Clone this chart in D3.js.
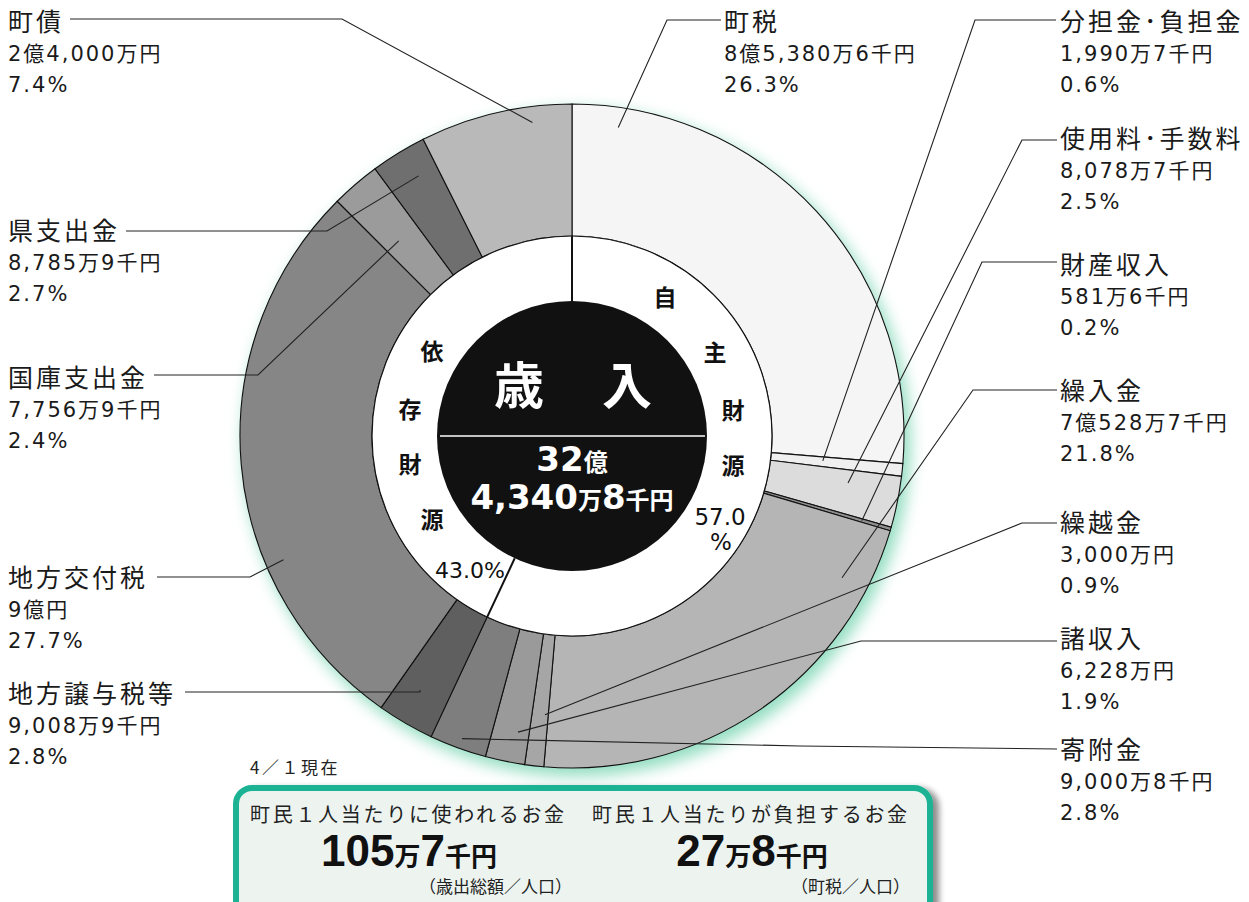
<!DOCTYPE html>
<html><head><meta charset="utf-8">
<script src="https://cdn.jsdelivr.net/npm/d3@7"></script>
<style>
html,body{margin:0;padding:0;background:#fff;}
svg{display:block;}
text{font-family:"DejaVu Sans","Noto Sans CJK JP",sans-serif;}
.jp{font-family:"Noto Sans CJK JP",sans-serif;}
</style></head>
<body>
<svg id="chart" width="1249" height="902"></svg>
<script>
// ---- data (amounts in 千円) ----
const categories = ["町税","分担金･負担金","使用料･手数料","財産収入","繰入金","繰越金","諸収入","寄附金","地方譲与税等","地方交付税","国庫支出金","県支出金","町債"];
const values = [853806,19907,80787,5816,705287,30000,62280,90008,90089,900000,77569,87859,240000];
const amountLabels = ["8億5,380万6千円","1,990万7千円","8,078万7千円","581万6千円","7億528万7千円","3,000万円","6,228万円","9,000万8千円","9,008万9千円","9億円","7,756万9千円","8,785万9千円","2億4,000万円"];
const percentLabels = ["26.3%","0.6%","2.5%","0.2%","21.8%","0.9%","1.9%","2.8%","2.8%","27.7%","2.4%","2.7%","7.4%"];
const groupNames = ["自主財源","依存財源"];
const groupPercents = ["57.0","43.0%"];
const totalLabel = ["32","億","4,340","万","8","千円"];
const perCapita = [
  {title:"町民１人当たりに使われるお金", parts:["105","万","7","千円"], note:"（歳出総額／人口）"},
  {title:"町民１人当たりが負担するお金", parts:["27","万","8","千円"], note:"（町税／人口）"}
];
const dateNote = "4／１現在";

// ---- styles / layout ----
const fills = ["#f5f5f5","#efefef","#dcdcdc","#8f8f8f","#b5b5b5","#a6a6a6","#9a9a9a","#7e7e7e","#5f5f5f","#868686","#9b9b9b","#6f6f6f","#b9b9b9"];
const cx = 572, cy = 436, R = 332, r1 = 200, r0 = 135;
// label layout: text x, name baseline, leader path (text side -> elbow), anchor within slice (t fraction, radius)
const layout = [
  {x:724, y:31, pts:[[721,20],[667,20]], t:0.09, rr:312},
  {x:1060,y:31, pts:[[1056,20],[975,20]], t:0.4, rr:252},
  {x:1060,y:148,pts:[[1057,140],[1022,140]], t:0.3, rr:280},
  {x:1060,y:274,pts:[[1057,262],[982,262]], t:0.5, rr:302},
  {x:1060,y:400,pts:[[1057,390],[973,390]], t:0.142, rr:305},
  {x:1060,y:532,pts:[[1057,523],[1022,523]], t:0.2, rr:280},
  {x:1060,y:648,pts:[[1057,641],[861,641]], t:0.31, rr:301},
  {x:1060,y:759,pts:[[1057,749],[800,746]], t:0.485, rr:322},
  {x:8,   y:703,pts:[[185,692],[420,692]], t:0.58, rr:296},
  {x:8,   y:587,pts:[[157,577],[250,577]], t:0.317, rr:314},
  {x:8,   y:387,pts:[[154,375],[258,375]], t:0.395, rr:261},
  {x:8,   y:240,pts:[[126,231],[327,231]], t:0.6, rr:302},
  {x:8,   y:31, pts:[[70,19],[342,19]], t:0.73, rr:316}
];

const svg = d3.select("#chart");
const defs = svg.append("defs");
defs.append("filter").attr("id","glow").attr("x","-20%").attr("y","-20%").attr("width","140%").attr("height","140%")
  .append("feGaussianBlur").attr("stdDeviation",8);
const sh = defs.append("filter").attr("id","boxshadow").attr("x","-5%").attr("y","-20%").attr("width","115%").attr("height","150%");
sh.append("feGaussianBlur").attr("in","SourceAlpha").attr("stdDeviation",3).attr("result","b");
sh.append("feOffset").attr("in","b").attr("dx",6).attr("dy",3).attr("result","o");
sh.append("feComponentTransfer").attr("in","o").attr("result","o2").append("feFuncA").attr("type","linear").attr("slope",0.45);
const mg = sh.append("feMerge"); mg.append("feMergeNode").attr("in","o2"); mg.append("feMergeNode").attr("in","SourceGraphic");

// glow
svg.append("circle").attr("cx",cx+5).attr("cy",cy+7).attr("r",R+1)
  .attr("fill","#8fdcc0").attr("filter","url(#glow)");

const pie = d3.pie().sort(null).value(d=>d)(values);
const arc = d3.arc().innerRadius(r1).outerRadius(R);
const g = svg.append("g").attr("transform",`translate(${cx},${cy})`);
g.selectAll("path.seg").data(pie).join("path").attr("class","seg")
  .attr("d",arc).attr("fill",(d,i)=>fills[i]).attr("stroke","#111").attr("stroke-width",1.1);

// inner white ring & black centre
g.append("circle").attr("r",r1).attr("fill","#fff").attr("stroke","#111").attr("stroke-width",1.2);
const splitAngle = pie[7].endAngle;
[0, splitAngle].forEach(a=>{
  g.append("line").attr("x1",Math.sin(a)*r0).attr("y1",-Math.cos(a)*r0)
   .attr("x2",Math.sin(a)*r1).attr("y2",-Math.cos(a)*r1).attr("stroke","#111").attr("stroke-width",2);
});
g.append("circle").attr("r",r0).attr("fill","#111111");
g.append("line").attr("x1",-132).attr("x2",133).attr("y1",0).attr("y2",0).attr("stroke","#fff").attr("stroke-width",1.5);

// leader lines
const lines = svg.append("g").attr("fill","none").attr("stroke","#222").attr("stroke-width",1.1);
pie.forEach((d,i)=>{
  const L = layout[i];
  const a = d.startAngle + L.t*(d.endAngle-d.startAngle);
  const end = [cx+Math.sin(a)*L.rr, cy-Math.cos(a)*L.rr];
  lines.append("path").attr("d", d3.line()([...L.pts, end]));
});

// category labels
const lab = svg.append("g").attr("fill","#1a1a1a");
categories.forEach((c,i)=>{
  const L = layout[i];
  lab.append("text").attr("class","jp").attr("x",L.x).attr("y",L.y).attr("font-size",25).attr("letter-spacing",3).text(c);
  lab.append("text").attr("x",L.x).attr("y",L.y+30).attr("font-size",21).attr("letter-spacing",2).text(amountLabels[i]);
  lab.append("text").attr("x",L.x).attr("y",L.y+61).attr("font-size",21).attr("letter-spacing",2).text(percentLabels[i]);
});

// group labels in white ring
const gl = svg.append("g").attr("class","jp").attr("font-weight","bold").attr("font-size",23).attr("text-anchor","middle").attr("fill","#111");
const ownPos = [[665,306],[715,361],[733,419],[733,474]];
const depPos = [[432,360],[410,418],[410,473],[432,528]];
groupNames[0].split("").forEach((ch,k)=>gl.append("text").attr("class","jp").attr("x",ownPos[k][0]).attr("y",ownPos[k][1]).text(ch));
groupNames[1].split("").forEach((ch,k)=>gl.append("text").attr("class","jp").attr("x",depPos[k][0]).attr("y",depPos[k][1]).text(ch));
svg.append("text").attr("x",720).attr("y",525).attr("text-anchor","middle").attr("font-size",23).attr("fill","#111").text(groupPercents[0]);
svg.append("text").attr("x",721).attr("y",550).attr("text-anchor","middle").attr("font-size",23).attr("fill","#111").text("%");
svg.append("text").attr("x",470).attr("y",578).attr("text-anchor","middle").attr("font-size",22).attr("fill","#111").text(groupPercents[1]);

// centre title
const ct = svg.append("g").attr("fill","#fff").attr("font-weight","bold");
ct.append("text").attr("class","jp").attr("x",519).attr("y",404).attr("text-anchor","middle").attr("font-size",50).text("歳");
ct.append("text").attr("class","jp").attr("x",627).attr("y",404).attr("text-anchor","middle").attr("font-size",50).text("入");
const tt1 = ct.append("text").attr("text-anchor","middle").attr("x",572).attr("y",471);
tt1.append("tspan").attr("font-size",34).text(totalLabel[0]);
tt1.append("tspan").attr("class","jp").attr("font-size",24).text(totalLabel[1]);
const tt2 = ct.append("text").attr("text-anchor","middle").attr("x",572).attr("y",509);
tt2.append("tspan").attr("font-size",34).text(totalLabel[2]);
tt2.append("tspan").attr("class","jp").attr("font-size",24).text(totalLabel[3]);
tt2.append("tspan").attr("font-size",34).text(totalLabel[4]);
tt2.append("tspan").attr("class","jp").attr("font-size",24).text(totalLabel[5]);

// date note
svg.append("text").attr("class","jp").attr("x",250).attr("y",774).attr("font-size",17).attr("letter-spacing",2.5).attr("fill","#222").text(dateNote);

// per-capita box
svg.append("rect").attr("x",236).attr("y",788).attr("width",694).attr("height",140).attr("rx",16)
  .attr("fill","#edf4f0").attr("stroke","#1db394").attr("stroke-width",6).attr("filter","url(#boxshadow)");
const boxX = [250, 592], numX = [409, 752], noteX = [572, 910];
perCapita.forEach((p,k)=>{
  svg.append("text").attr("class","jp").attr("x",boxX[k]).attr("y",822).attr("font-size",20).attr("letter-spacing",2.7).attr("fill","#222").text(p.title);
  const t = svg.append("text").attr("x",numX[k]).attr("y",866).attr("text-anchor","middle").attr("font-weight","bold").attr("fill","#111");
  t.append("tspan").attr("font-family","Liberation Sans").attr("font-size",44).text(p.parts[0]);
  t.append("tspan").attr("class","jp").attr("font-size",26).text(p.parts[1]);
  t.append("tspan").attr("font-family","Liberation Sans").attr("font-size",44).text(p.parts[2]);
  t.append("tspan").attr("class","jp").attr("font-size",26).text(p.parts[3]);
  svg.append("text").attr("class","jp").attr("x",noteX[k]).attr("y",893).attr("text-anchor","end").attr("font-size",17).attr("fill","#222").text(p.note);
});
</script>
</body></html>
